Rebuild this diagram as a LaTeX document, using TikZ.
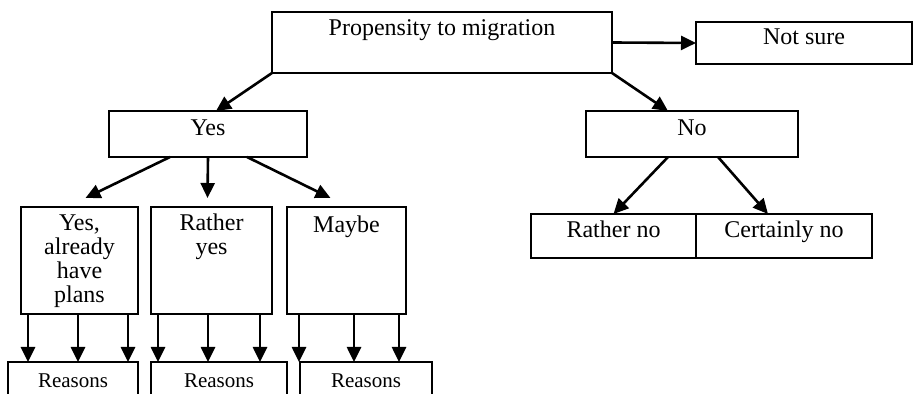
\documentclass[tikz,border=0pt]{standalone}
\usepackage{fontspec}
\setmainfont{Liberation Serif}
\usetikzlibrary{positioning}
\usetikzlibrary{arrows.meta}
\usetikzlibrary{calc}

\newdimen\px \px=0.5pt

\begin{document}
\begin{tikzpicture}[
    x=0.5pt, y=-0.5pt,
    line width=1.3pt,
% Box style
    box/.style={rectangle,draw,anchor=north west,inner sep=0pt,outer sep=0pt,
		text height=8pt,text depth=6pt,font={\fontsize{12pt}{12pt}\selectfont}},
    txt/.style={anchor=north,inner sep=0pt,align=center,font={\fontsize{12pt}{12pt}\selectfont}},
    arr/.style={-{Triangle[length=7.5pt,width=7pt]}}
    ]

  \path[use as bounding box,clip] (0,0) rectangle (914,394);

  \node (mig) [box,minimum width=340\px,minimum height=61\px,text height=12pt,text depth=18.5pt] at (272,12) {Propensity to migration};
  \node (unsure) [box,minimum width=216\px,minimum height=42\px] at (696,22) {Not sure};
  \node (yes) [box,minimum width=198\px,minimum height=46\px] at (109,111) {Yes};
  \node (no) [box,minimum width=212\px,minimum height=46\px] at (586,111) {No};
  \node (rno) [box,minimum width=165\px,minimum height=44\px] at (531,214) {Rather no};
  \node (cno) [box,minimum width=176\px,minimum height=44\px,right=0pt of rno] {Certainly no};

  % answers under Yes
  \node (plans) [box,minimum width=117\px,minimum height=107\px] at (21,207) {};
  \node (rather) [box,minimum width=121\px,minimum height=107\px] at (151,207) {};
  \node (maybe) [box,minimum width=119\px,minimum height=107\px] at (287,207) {};
  \node (planstxt) [txt] at ($(plans.north)+(0,6)$) {Yes,\\already\\have\\plans};
  \node (rathertxt) [txt] at ($(rather.north)+(0,6)$) {Rather\\yes};
  \node (maybetxt) [txt] at ($(maybe.north)+(0,8)$) {Maybe};

  % reasons (cut off at the bottom)
  \node (why1) [box,minimum width=130\px,minimum height=60\px] at (8,362) {};
  \node (why2) [box,minimum width=136\px,minimum height=60\px] at (151,362) {};
  \node (why3) [box,minimum width=132\px,minimum height=60\px] at (300,362) {};
  \foreach \i in {1,2,3}
    \node (why\i txt) [txt,font={\fontsize{10.5pt}{12pt}\selectfont}] at ($(why\i.north)+(0,10)$) {Reasons};

  \draw[arr] (mig.east) -- (unsure.west);
  \draw[arr] (mig.south west) -- ($(yes.north)+(8,0)$);
  \draw[arr] (mig.south east) -- ($(no.north)+(-24,0)$);

  \draw[arr] ($(yes.south)+(-38,0)$) -- ($(plans.north)+(6,-9)$);
  \draw[arr] (yes.south) -- ($(rather.north)+(-4,-9)$);
  \draw[arr] ($(yes.south)+(39,0)$) -- ($(maybe.north)+(-16,-9)$);

  \draw[arr] ($(no.south)+(-24,0)$) -- (rno.north);
  \draw[arr] ($(no.south)+(26,0)$) -- ($(cno.north)+(-16,0)$);

  \foreach \b/\r/\dx in {plans/why1/7, plans/why1/57, plans/why1/107,
      rather/why2/7, rather/why2/57, rather/why2/109,
      maybe/why3/12, maybe/why3/67, maybe/why3/112} {
    \path ($(\b.south west)+(\dx,0)$) coordinate (s);
    \draw[arr] (s) -- (s |- \r.north);
  }

\end{tikzpicture}
\end{document}
